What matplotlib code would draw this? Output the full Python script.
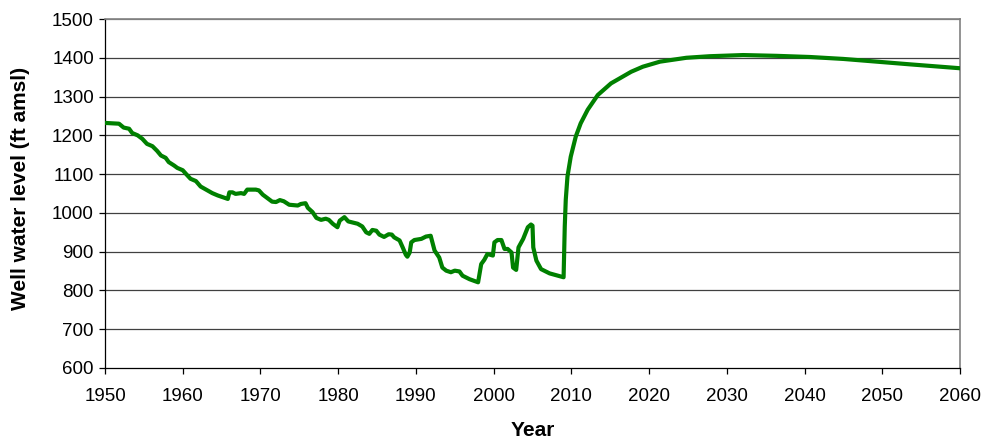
import matplotlib
matplotlib.use("Agg")
import matplotlib.pyplot as plt

years = [1950.0, 1951.8, 1952.4, 1953.1, 1953.5, 1954.2, 1954.8, 1955.4, 1956.1, 1956.7,
         1957.2, 1957.8, 1958.2, 1958.9, 1959.3, 1960.0, 1960.4, 1961.0, 1961.7, 1962.3,
         1963.0, 1963.8, 1964.5, 1965.8, 1966.0, 1966.4, 1966.8, 1967.5, 1967.9, 1968.3,
         1969.4, 1969.8, 1970.3, 1970.9, 1971.5, 1972.0, 1972.5, 1973.0, 1973.7, 1974.8,
         1975.2, 1975.8, 1976.1, 1976.7, 1977.2, 1977.8, 1978.4, 1978.8, 1979.3, 1979.9,
         1980.2, 1980.8, 1981.3, 1982.5, 1983.1, 1983.6, 1984.0, 1984.4, 1984.9, 1985.3,
         1985.9, 1986.5, 1986.9, 1987.2, 1987.9, 1988.3, 1988.7, 1988.9, 1989.2, 1989.4,
         1989.8, 1990.7, 1991.3, 1991.9, 1992.4, 1993.0, 1993.4, 1993.9, 1994.5, 1995.0,
         1995.6, 1996.0, 1996.9, 1998.0, 1998.4, 1998.8, 1999.2, 1999.9, 2000.1, 2000.5,
         2001.0, 2001.4, 2001.8, 2002.3, 2002.5, 2002.9, 2003.2, 2003.8, 2004.4, 2004.8,
         2005.0, 2005.1, 2005.5, 2006.1, 2007.2, 2008.3, 2009.0,
         2009.15, 2009.28, 2009.5, 2009.92, 2010.57, 2011.2, 2012.1, 2013.4, 2015.1, 2017.7,
         2019.2, 2021.4, 2024.8, 2027.8, 2032.1, 2036.4, 2040.7, 2045.0, 2049.3, 2053.6,
         2060.0]

levels = [1232, 1230, 1220, 1217, 1206, 1200, 1191, 1178, 1172, 1160,
          1148, 1142, 1131, 1122, 1116, 1110, 1101, 1088, 1082, 1068,
          1060, 1051, 1045, 1036, 1053, 1053, 1049, 1051, 1049, 1060,
          1060, 1058, 1047, 1038, 1029, 1028, 1033, 1030, 1021, 1019,
          1023, 1025, 1013, 1002, 987, 982, 985, 982, 972, 963,
          980, 989, 978, 972, 965, 950, 946, 956, 954, 944,
          938, 945, 944, 937, 929, 911, 892, 887, 898, 924,
          930, 933, 939, 941, 903, 885, 859, 851, 847, 851,
          849, 838, 829, 821, 868, 879, 894, 890, 924, 930,
          930, 907, 907, 898, 859, 853, 911, 933, 963, 970,
          967, 911, 877, 855, 844, 838, 834,
          965, 1034, 1094, 1145, 1197, 1231, 1266, 1304, 1334, 1364,
          1377, 1390, 1400, 1404, 1407, 1405, 1402, 1397, 1390, 1383,
          1373]

x_ticks = [1950, 1960, 1970, 1980, 1990, 2000, 2010, 2020, 2030, 2040, 2050, 2060]
y_ticks = [600, 700, 800, 900, 1000, 1100, 1200, 1300, 1400, 1500]

plt.rcParams['font.family'] = ['Liberation Sans', 'DejaVu Sans']

W, H = 987, 441
fig = plt.figure(figsize=(W / 100, H / 100), dpi=100)
ax = fig.add_axes([105 / W, 1 - 368 / H, (960 - 105) / W, (368 - 19) / H])

for yv in y_ticks[1:]:
    ax.axhline(yv, color='#404040' if yv < 1500 else '#808080', lw=0.9, zorder=1)

ax.plot(years, levels, color='#008000', lw=3.0, zorder=3, solid_joinstyle='round')

ax.set_xlim(1950, 2060)
ax.set_ylim(600, 1500)
ax.set_xticks(x_ticks)
ax.set_yticks(y_ticks)
ax.tick_params(axis='both', direction='out', length=4, width=0.9, labelsize=13.5, color='black')
ax.tick_params(axis='x', pad=10.5)
ax.tick_params(axis='y', pad=4)

for side in ['left', 'bottom']:
    ax.spines[side].set_color('black')
    ax.spines[side].set_linewidth(0.9)
ax.spines['top'].set_color('#808080')
ax.spines['right'].set_color('#808080')
ax.spines['right'].set_linewidth(1.2)
ax.spines['top'].set_linewidth(1.2)

fig.text(533 / W, 1 - 430 / H, 'Year', fontsize=15, fontweight='bold', ha='center', va='center')
fig.text(21 / W, 1 - 188 / H, 'Well water level (ft amsl)', fontsize=15, fontweight='bold',
         ha='center', va='center', rotation=90)

fig.savefig('out.png', dpi=100)
